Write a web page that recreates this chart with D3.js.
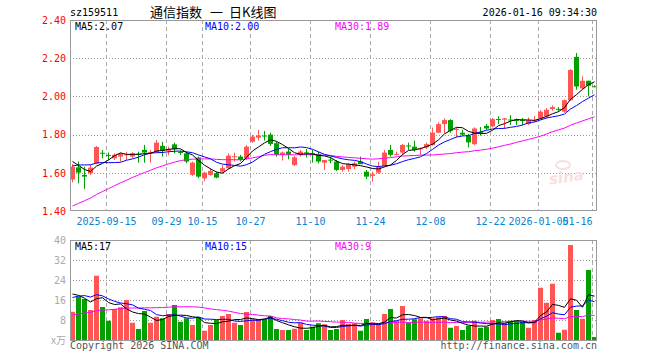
<!DOCTYPE html>
<html>
<head>
<meta charset="utf-8">
<script src="https://cdn.jsdelivr.net/npm/d3@7"></script>
<style>
  body { margin: 0; background: #fff; }
  text { font-family: "DejaVu Sans Mono", monospace; font-size: 10px; }
</style>
</head>
<body>
<svg id="chart" width="660" height="360"></svg>
<script>
// Data =========================

let tickIdx = [6, 16, 22, 30, 40, 50, 60, 70, 78, 87];
let tickLabels = ["2025-09-15", "09-29", "10-15", "10-27", "11-10", "11-24", "12-08", "12-22", "2026-01-05", "01-16"];

let priceTicks = [1.40, 1.60, 1.80, 2.00, 2.20, 2.40];
let volTicks = [8, 16, 24, 32, 40];

// closes / volumes before the first visible day (only feed the moving averages)
let priorClose = [1.17, 1.18, 1.20, 1.19, 1.22, 1.24, 1.23, 1.26, 1.28, 1.27, 1.30, 1.33, 1.35, 1.38, 1.40,
  1.42, 1.44, 1.47, 1.51, 1.58, 1.55, 1.58, 1.62, 1.64, 1.675, 1.70, 1.69, 1.68, 1.593];
let priorVol = [4.5, 5.2, 4.8, 5.5, 4.6, 6, 5.5, 6.8, 7.2, 6.5, 5.8, 7.5, 8.1, 6.9, 7.4,
  6.2, 7.8, 8.5, 7.6, 7.6, 12, 14, 18, 16, 18, 20, 22, 19.7, 19];

let openP = [1.565, 1.629, 1.589, 1.598, 1.650, 1.705, 1.693, 1.676, 1.685, 1.693,
  1.685, 1.699, 1.720, 1.707, 1.709, 1.741, 1.715, 1.749, 1.709, 1.702,
  1.589, 1.680, 1.571, 1.589, 1.598, 1.606, 1.624, 1.683, 1.685, 1.676,
  1.763, 1.784, 1.795, 1.800, 1.755, 1.694, 1.711, 1.641, 1.694, 1.707,
  1.703, 1.699, 1.653, 1.669, 1.659, 1.615, 1.620, 1.632, 1.659, 1.606,
  1.584, 1.601, 1.636, 1.720, 1.695, 1.706, 1.743, 1.737, 1.723, 1.733,
  1.745, 1.810, 1.855, 1.876, 1.826, 1.810, 1.794, 1.750, 1.813, 1.846,
  1.843, 1.882, 1.878, 1.879, 1.881, 1.876, 1.855, 1.870, 1.885, 1.895,
  1.934, 1.935, 1.920, 1.980, 2.207, 2.042, 2.082, 2.053];
let highP = [1.645, 1.659, 1.632, 1.641, 1.740, 1.720, 1.706, 1.702, 1.706, 1.710,
  1.708, 1.711, 1.746, 1.720, 1.772, 1.763, 1.737, 1.758, 1.716, 1.709,
  1.659, 1.685, 1.606, 1.624, 1.606, 1.641, 1.702, 1.706, 1.694, 1.745,
  1.798, 1.824, 1.819, 1.810, 1.763, 1.711, 1.728, 1.688, 1.720, 1.725,
  1.720, 1.711, 1.667, 1.685, 1.667, 1.641, 1.653, 1.659, 1.685, 1.615,
  1.606, 1.658, 1.720, 1.746, 1.711, 1.751, 1.758, 1.768, 1.733, 1.758,
  1.837, 1.864, 1.885, 1.880, 1.837, 1.826, 1.804, 1.838, 1.840, 1.855,
  1.887, 1.896, 1.887, 1.902, 1.885, 1.887, 1.890, 1.897, 1.929, 1.939,
  1.953, 1.944, 1.984, 2.143, 2.227, 2.105, 2.082, 2.058];
let lowP = [1.550, 1.545, 1.516, 1.589, 1.645, 1.676, 1.667, 1.667, 1.659, 1.667,
  1.676, 1.653, 1.653, 1.653, 1.706, 1.685, 1.693, 1.702, 1.693, 1.650,
  1.584, 1.571, 1.556, 1.585, 1.571, 1.598, 1.619, 1.659, 1.659, 1.667,
  1.758, 1.769, 1.769, 1.741, 1.685, 1.664, 1.671, 1.636, 1.685, 1.680,
  1.653, 1.650, 1.615, 1.650, 1.610, 1.606, 1.606, 1.620, 1.650, 1.568,
  1.554, 1.594, 1.632, 1.685, 1.690, 1.694, 1.720, 1.711, 1.694, 1.725,
  1.742, 1.808, 1.808, 1.810, 1.785, 1.795, 1.733, 1.745, 1.795, 1.825,
  1.838, 1.855, 1.830, 1.850, 1.850, 1.850, 1.850, 1.866, 1.880, 1.885,
  1.925, 1.920, 1.915, 1.977, 2.035, 2.038, 2.000, 2.048];
let closeP = [1.632, 1.601, 1.580, 1.627, 1.735, 1.702, 1.690, 1.694, 1.699, 1.697,
  1.702, 1.695, 1.706, 1.709, 1.758, 1.716, 1.725, 1.723, 1.707, 1.659,
  1.653, 1.580, 1.601, 1.610, 1.575, 1.624, 1.690, 1.687, 1.667, 1.737,
  1.790, 1.795, 1.793, 1.751, 1.694, 1.706, 1.694, 1.681, 1.711, 1.705,
  1.700, 1.659, 1.667, 1.667, 1.615, 1.632, 1.645, 1.650, 1.645, 1.580,
  1.592, 1.632, 1.706, 1.694, 1.699, 1.746, 1.741, 1.720, 1.728, 1.750,
  1.810, 1.855, 1.876, 1.820, 1.829, 1.800, 1.759, 1.832, 1.810, 1.832,
  1.881, 1.879, 1.885, 1.876, 1.872, 1.874, 1.876, 1.875, 1.920, 1.930,
  1.944, 1.932, 1.980, 2.138, 2.052, 2.082, 2.056, 2.052];
let volume = [11.3, 17.3, 16.4, 12, 25.7, 13.2, 7.7, 12.4, 13.1, 16,
  6.9, 4.4, 11.6, 6.9, 9.3, 8.7, 10.4, 14, 7.3, 8.7,
  6, 9.1, 3.7, 6, 8, 9.6, 10.4, 6.9, 6, 11.2,
  8.3, 8.3, 8.3, 9.6, 4.4, 4, 4, 4.5, 6.9, 4,
  5.3, 6.7, 6.3, 4, 4.4, 8, 6.4, 6.7, 3.7, 8.4,
  7.1, 6.4, 10.4, 12.4, 7.7, 13.6, 6.9, 8.3, 8.7, 7.7,
  8.7, 9.1, 9.6, 4.9, 5.6, 4, 5.7, 7.7, 4.9, 5.3,
  8, 8.4, 6.9, 7.7, 7.7, 7.3, 4.9, 8, 20.9, 14.9,
  22.5, 2.9, 4.1, 38, 12, 8.5, 28, 1.2];

let upColor = "#ff5555";
let downColor = "#00a000";
let maColors = { 5: "#000000", 10: "#0000ff", 30: "#ff00ff" };

// Helpers ======================

let movingAvg = (prior, values, n) => {
  let all = prior.concat(values);
  return values.map((v, i) => {
    let end = prior.length + i;
    return d3.mean(all.slice(end - n + 1, end + 1));
  });
};

let svg = d3.select("#chart");
let n = closeP.length;

let x = d3.scaleLinear().domain([0, 88]).range([70, 598]);
let yP = d3.scaleLinear().domain([1.4, 2.4]).range([211, 20]);
let yV = d3.scaleLinear().domain([0, 40]).range([340, 240]);

let isUp = i => closeP[i] >= openP[i];

// Header =======================

svg.append("text").attr("x", 70).attr("y", 16).attr("fill", "#000").text("sz159511");
let title = svg.append("text").attr("x", 150).attr("y", 17)
  .style("font-family", "'Noto Sans CJK SC', sans-serif").style("font-size", "13px")
  .attr("fill", "#000");
title.append("tspan").text("通信指数");
title.append("tspan").attr("dx", 8).text("一");
title.append("tspan").attr("dx", 6).text("日K线图");
svg.append("text").attr("x", 597).attr("y", 16).attr("text-anchor", "end")
  .attr("fill", "#000").text("2026-01-16 09:34:30");

// Frames and grids =============

let drawPanel = (top, bottom, yScale, gridVals) => {
  let g = svg.append("g");
  g.selectAll("line.grid").data(gridVals).enter().append("line")
    .attr("x1", 70).attr("x2", 597)
    .attr("y1", d => Math.round(yScale(d)) + 0.5)
    .attr("y2", d => Math.round(yScale(d)) + 0.5)
    .attr("stroke", "#999").attr("stroke-dasharray", "1,2");
  g.selectAll("line.vdash").data(tickIdx).enter().append("line")
    .attr("x1", d => x(d) + 0.5).attr("x2", d => x(d) + 0.5)
    .attr("y1", top).attr("y2", bottom)
    .attr("stroke", "#aaa").attr("stroke-dasharray", "4,3");
  return g;
};

drawPanel(20, 211, yP, [1.6, 1.8, 2.0, 2.2]);
drawPanel(240, 340, yV, [8, 16, 24, 32]);

// Watermark
svg.append("text").attr("x", 567).attr("y", 182).attr("text-anchor", "middle")
  .attr("transform", "rotate(-8,567,182)")
  .style("font-family", "'DejaVu Sans', sans-serif").style("font-size", "15px")
  .style("font-weight", "bold").style("font-style", "italic")
  .attr("fill", "#f6e0e0").text("sina");
svg.append("ellipse").attr("cx", 563).attr("cy", 165).attr("rx", 7).attr("ry", 4)
  .attr("fill", "none").attr("stroke", "#f6e0e0").attr("stroke-width", 2);

// Candles ======================

let candles = svg.append("g");
candles.selectAll("rect.wick").data(d3.range(n)).enter().append("rect")
  .attr("x", i => x(i) + 2)
  .attr("y", i => yP(highP[i]))
  .attr("width", 1)
  .attr("height", i => Math.max(1, yP(lowP[i]) - yP(highP[i])))
  .attr("fill", i => isUp(i) ? upColor : downColor);
candles.selectAll("rect.body").data(d3.range(n)).enter().append("rect")
  .attr("x", i => x(i))
  .attr("y", i => yP(Math.max(openP[i], closeP[i])))
  .attr("width", 5)
  .attr("height", i => Math.max(1, Math.abs(yP(openP[i]) - yP(closeP[i]))))
  .attr("fill", i => isUp(i) ? upColor : downColor);

// Volume bars
svg.append("g").selectAll("rect").data(d3.range(n)).enter().append("rect")
  .attr("x", i => x(i))
  .attr("y", i => yV(volume[i]))
  .attr("width", 5)
  .attr("height", i => yV(0) - yV(volume[i]))
  .attr("fill", i => isUp(i) ? upColor : downColor);

// Moving averages ==============

let drawMA = (prior, values, yScale) => {
  [30, 10, 5].forEach(p => {
    let ma = movingAvg(prior, values, p);
    let line = d3.line().x((d, i) => x(i) + 2.5).y(d => yScale(d));
    svg.append("path").datum(ma).attr("d", line)
      .attr("fill", "none").attr("stroke", maColors[p]).attr("stroke-width", 1);
  });
};
drawMA(priorClose, closeP, yP);
drawMA(priorVol, volume, yV);

// Frames on top
svg.append("rect").attr("x", 70.5).attr("y", 20.5).attr("width", 526).attr("height", 190)
  .attr("fill", "none").attr("stroke", "#999");
svg.append("rect").attr("x", 70.5).attr("y", 240.5).attr("width", 526).attr("height", 100)
  .attr("fill", "none").attr("stroke", "#999");

// MA legends
let lastVal = (prior, values, p) => movingAvg(prior, values, p)[n - 1];
let legend = (y, prior, values, fmt) => {
  [[5, 75], [10, 205], [30, 335]].forEach(([p, lx]) => {
    svg.append("text").attr("x", lx).attr("y", y).attr("fill", maColors[p])
      .text(`MA${p}:${fmt(lastVal(prior, values, p))}`);
  });
};
legend(30, priorClose, closeP, v => (Math.floor(v * 100) / 100).toFixed(2));
legend(250, priorVol, volume, v => Math.floor(v));

// Axes =========================

let yAxisP = svg.append("g").attr("transform", "translate(66,0)")
  .call(d3.axisLeft(yP).tickValues(priceTicks).tickSize(0).tickPadding(0).tickFormat(d3.format(".2f")));
yAxisP.select(".domain").remove();
yAxisP.selectAll("text").attr("fill", "#ff0000").style("font-size", "10px").style("font-family", "'DejaVu Sans Mono', monospace");

let yAxisV = svg.append("g").attr("transform", "translate(66,0)")
  .call(d3.axisLeft(yV).tickValues(volTicks).tickSize(0).tickPadding(0));
yAxisV.select(".domain").remove();
yAxisV.selectAll("text").attr("fill", "#aaa").style("font-size", "10px").style("font-family", "'DejaVu Sans Mono', monospace");
svg.append("text").attr("x", 66).attr("y", 344).attr("text-anchor", "end")
  .attr("fill", "#aaa").style("font-family", "'Noto Sans CJK SC', sans-serif").style("font-size", "10px").text("x万");

let xAxis = svg.append("g").attr("transform", "translate(0,211)")
  .call(d3.axisBottom(x).tickValues(tickIdx).tickSize(0).tickPadding(7)
    .tickFormat((d, i) => tickLabels[i]));
xAxis.select(".domain").remove();
xAxis.selectAll("text").attr("fill", "#0a84d0").style("font-size", "10px").style("font-family", "'DejaVu Sans Mono', monospace");
xAxis.selectAll("text").filter((d, i) => i === tickIdx.length - 1).attr("text-anchor", "end");

// Footer
svg.append("text").attr("x", 70).attr("y", 349).attr("fill", "#555").text("Copyright 2026 SINA.COM");
svg.append("text").attr("x", 597).attr("y", 349).attr("text-anchor", "end").attr("fill", "#555").text("http://finance.sina.com.cn");
</script>
</body>
</html>
